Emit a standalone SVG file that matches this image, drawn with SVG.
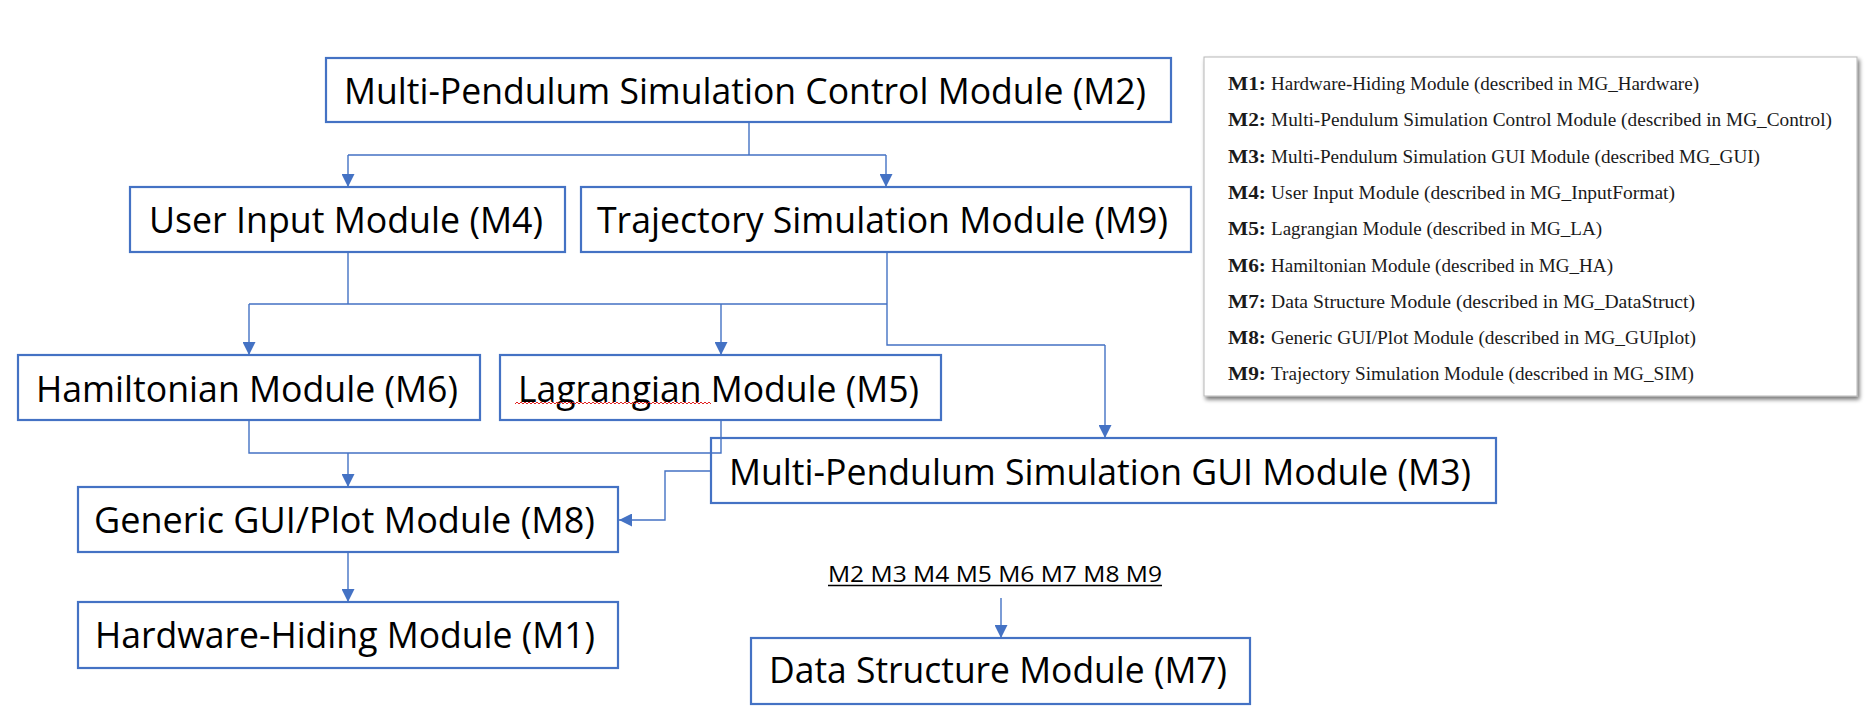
<svg xmlns="http://www.w3.org/2000/svg" width="1873" height="720" viewBox="0 0 1873 720">
<style>
.box{fill:#ffffff;stroke:#4472C4;stroke-width:2.2}
.lbl{font-family:"Open Sans","Noto Sans","Liberation Sans",sans-serif;font-size:36px;fill:#000}
.con{fill:none;stroke:#4472C4;stroke-width:1.4}
.arr{fill:none;stroke:#4472C4;stroke-width:1.4;marker-end:url(#ah)}
.lg{font-family:"Liberation Serif","DejaVu Serif",serif;font-size:19px;fill:#1a1a1a}
.lgb{font-family:"Liberation Serif","DejaVu Serif",serif;font-size:19px;font-weight:bold;fill:#1a1a1a}
</style>
<defs>
<marker id="ah" markerUnits="userSpaceOnUse" markerWidth="14" markerHeight="13" refX="13" refY="6.5" orient="auto">
<path d="M0,0 L13,6.5 L0,13 z" fill="#4472C4"/>
</marker>
<filter id="sh" x="-5%" y="-5%" width="110%" height="115%">
<feGaussianBlur in="SourceAlpha" stdDeviation="2"/>
<feOffset dx="2" dy="3" result="b"/>
<feComponentTransfer><feFuncA type="linear" slope="0.55"/></feComponentTransfer>
<feMerge><feMergeNode/><feMergeNode in="SourceGraphic"/></feMerge>
</filter>
</defs>
<rect x="0" y="0" width="1873" height="720" fill="#ffffff"/>

<g id="nodes">
<g id="M2"><rect class="box" x="326" y="58" width="845" height="64"/><text class="lbl" x="344" y="104" textLength="802" lengthAdjust="spacingAndGlyphs">Multi-Pendulum Simulation Control Module (M2)</text></g>
<g id="M4"><rect class="box" x="130" y="187" width="435" height="65"/><text class="lbl" x="149" y="233" textLength="394" lengthAdjust="spacingAndGlyphs">User Input Module (M4)</text></g>
<g id="M9"><rect class="box" x="581" y="187" width="610" height="65"/><text class="lbl" x="597" y="233" textLength="571" lengthAdjust="spacingAndGlyphs">Trajectory Simulation Module (M9)</text></g>
<g id="M6"><rect class="box" x="18" y="355" width="462" height="65"/><text class="lbl" x="36" y="402" textLength="422" lengthAdjust="spacingAndGlyphs">Hamiltonian Module (M6)</text></g>
<g id="M5"><rect class="box" x="500" y="355" width="441" height="65"/><text class="lbl" x="518" y="402" textLength="401" lengthAdjust="spacingAndGlyphs">Lagrangian Module (M5)</text><path d="M515,404 l2,-2 l2,2 l2,-2 l2,2 l2,-2 l2,2 l2,-2 l2,2 l2,-2 l2,2 l2,-2 l2,2 l2,-2 l2,2 l2,-2 l2,2 l2,-2 l2,2 l2,-2 l2,2 l2,-2 l2,2 l2,-2 l2,2 l2,-2 l2,2 l2,-2 l2,2 l2,-2 l2,2 l2,-2 l2,2 l2,-2 l2,2 l2,-2 l2,2 l2,-2 l2,2 l2,-2 l2,2 l2,-2 l2,2 l2,-2 l2,2 l2,-2 l2,2 l2,-2 l2,2 l2,-2 l2,2 l2,-2 l2,2 l2,-2 l2,2 l2,-2 l2,2 l2,-2 l2,2 l2,-2 l2,2 l2,-2 l2,2 l2,-2 l2,2 l2,-2 l2,2 l2,-2 l2,2 l2,-2 l2,2 l2,-2 l2,2 l2,-2 l2,2 l2,-2 l2,2 l2,-2 l2,2 l2,-2 l2,2 l2,-2 l2,2 l2,-2 l2,2 l2,-2 l2,2 l2,-2 l2,2 l2,-2 l2,2 l2,-2 l2,2 l2,-2 l2,2 l2,-2 l2,2 l2,-2 l2,2" fill="none" stroke="#e02020" stroke-width="1"/></g>
<g id="M3"><rect class="box" x="711" y="438" width="785" height="65"/><text class="lbl" x="729" y="485" textLength="742" lengthAdjust="spacingAndGlyphs">Multi-Pendulum Simulation GUI Module (M3)</text></g>
<g id="M8"><rect class="box" x="78" y="487" width="540" height="65"/><text class="lbl" x="94" y="533" textLength="501" lengthAdjust="spacingAndGlyphs">Generic GUI/Plot Module (M8)</text></g>
<g id="M1"><rect class="box" x="78" y="602" width="540" height="66"/><text class="lbl" x="95" y="648" textLength="500" lengthAdjust="spacingAndGlyphs">Hardware-Hiding Module (M1)</text></g>
<g id="M7"><rect class="box" x="751" y="638" width="499" height="66"/><text class="lbl" x="769" y="683" textLength="458" lengthAdjust="spacingAndGlyphs">Data Structure Module (M7)</text></g>
<g id="uses"><text x="828" y="582" font-family="'Open Sans','Noto Sans','Liberation Sans',sans-serif" font-size="21" fill="#000" textLength="334" lengthAdjust="spacingAndGlyphs">M2 M3 M4 M5 M6 M7 M8 M9</text><line x1="828" y1="585.5" x2="1162" y2="585.5" stroke="#000" stroke-width="1.6"/></g>
</g>

<g id="connectors">
<path class="con" d="M749,122 V155 M348,155 H886"/>
<path class="arr" d="M348,155 V187"/>
<path class="arr" d="M886,155 V187"/>
<path class="con" d="M348,252 V304 M249,304 H887 M887,252 V345 H1105"/>
<path class="arr" d="M249,304 V355"/>
<path class="arr" d="M721,304 V355"/>
<path class="arr" d="M1105,345 V438"/>
<path class="con" d="M249,420 V453 H721 V420"/>
<path class="arr" d="M348,453 V487"/>
<path class="arr" d="M711,471 H665 V520 H619"/>
<path class="arr" d="M348,552 V602"/>
<path class="arr" d="M1001,598 V638"/>
</g>

<g id="legend">
<rect x="1204" y="57" width="653" height="339" fill="#ffffff" stroke="#b8b8b8" stroke-width="1" filter="url(#sh)"/>
<text class="lgb" x="1228" y="90" textLength="38" lengthAdjust="spacingAndGlyphs">M1:</text><text class="lg" x="1271" y="90" textLength="428" lengthAdjust="spacingAndGlyphs">Hardware-Hiding Module (described in MG_Hardware)</text>
<text class="lgb" x="1228" y="126.3" textLength="38" lengthAdjust="spacingAndGlyphs">M2:</text><text class="lg" x="1271" y="126.3" textLength="561" lengthAdjust="spacingAndGlyphs">Multi-Pendulum Simulation Control Module (described in MG_Control)</text>
<text class="lgb" x="1228" y="162.6" textLength="38" lengthAdjust="spacingAndGlyphs">M3:</text><text class="lg" x="1271" y="162.6" textLength="489" lengthAdjust="spacingAndGlyphs">Multi-Pendulum Simulation GUI Module (described MG_GUI)</text>
<text class="lgb" x="1228" y="198.9" textLength="38" lengthAdjust="spacingAndGlyphs">M4:</text><text class="lg" x="1271" y="198.9" textLength="404" lengthAdjust="spacingAndGlyphs">User Input Module (described in MG_InputFormat)</text>
<text class="lgb" x="1228" y="235.2" textLength="38" lengthAdjust="spacingAndGlyphs">M5:</text><text class="lg" x="1271" y="235.2" textLength="331" lengthAdjust="spacingAndGlyphs">Lagrangian Module (described in MG_LA)</text>
<text class="lgb" x="1228" y="271.5" textLength="38" lengthAdjust="spacingAndGlyphs">M6:</text><text class="lg" x="1271" y="271.5" textLength="342" lengthAdjust="spacingAndGlyphs">Hamiltonian Module (described in MG_HA)</text>
<text class="lgb" x="1228" y="307.8" textLength="38" lengthAdjust="spacingAndGlyphs">M7:</text><text class="lg" x="1271" y="307.8" textLength="424" lengthAdjust="spacingAndGlyphs">Data Structure Module (described in MG_DataStruct)</text>
<text class="lgb" x="1228" y="344.1" textLength="38" lengthAdjust="spacingAndGlyphs">M8:</text><text class="lg" x="1271" y="344.1" textLength="425" lengthAdjust="spacingAndGlyphs">Generic GUI/Plot Module (described in MG_GUIplot)</text>
<text class="lgb" x="1228" y="380.4" textLength="38" lengthAdjust="spacingAndGlyphs">M9:</text><text class="lg" x="1271" y="380.4" textLength="423" lengthAdjust="spacingAndGlyphs">Trajectory Simulation Module (described in MG_SIM)</text>
</g>
</svg>
